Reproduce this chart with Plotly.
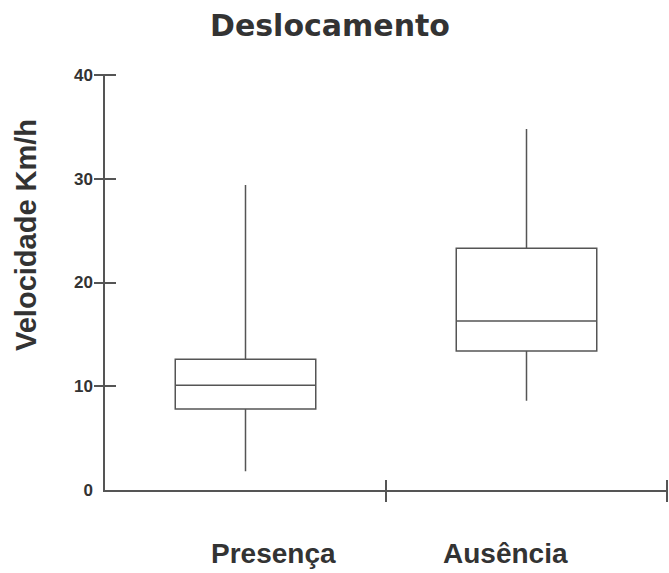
import plotly.graph_objects as go

# Speed (km/h) summary per group
categories = ["Presença", "Ausência"]
lower_whisker = [1.8, 8.6]
q1_values = [7.8, 13.4]
medians = [10.1, 16.3]
q3_values = [12.6, 23.3]
upper_whisker = [29.4, 34.8]
y_ticks = [0, 10, 20, 30, 40]

LINE = "#555555"
TEXT = "#333333"
FONT = "Liberation Sans, Arial, sans-serif"

fig = go.Figure()
for i, name in enumerate(categories):
    fig.add_trace(go.Box(
        x=[i],
        q1=[q1_values[i]], median=[medians[i]], q3=[q3_values[i]],
        lowerfence=[lower_whisker[i]], upperfence=[upper_whisker[i]],
        name=name, width=0.5, whiskerwidth=0,
        fillcolor="white", line=dict(color=LINE, width=1.5),
        boxpoints=False, hoverinfo="skip",
    ))

W, H = 669, 573
L, R, T, B = 105, 2, 75, 83
pw, ph = W - L - R, H - T - B

fig.update_layout(
    width=W, height=H,
    margin=dict(l=L, r=R, t=T, b=B),
    paper_bgcolor="white", plot_bgcolor="white",
    showlegend=False,
    xaxis=dict(range=[-0.5, 1.5], showgrid=False, zeroline=False,
               showline=True, linecolor=LINE, linewidth=1.5,
               showticklabels=False, ticks=""),
    # crossing ticks at the category boundaries
    xaxis2=dict(overlaying="x", anchor="free", position=11 / ph,
                range=[-0.5, 1.5], tickvals=[0.5, 1.5], ticks="outside",
                ticklen=22, tickwidth=1.5, tickcolor=LINE,
                showline=False, showgrid=False, zeroline=False,
                showticklabels=False),
    yaxis=dict(range=[0, 40], tickvals=y_ticks, ticks="",
               showgrid=False, zeroline=False,
               showline=True, linecolor=LINE, linewidth=1.5,
               ticklabelstandoff=7,
               tickfont=dict(family=FONT, size=17, color=TEXT, weight="bold")),
    # crossing ticks on the value axis (none at zero)
    yaxis2=dict(overlaying="y", anchor="free", position=11 / pw,
                range=[0, 40], tickvals=y_ticks[1:], ticks="outside",
                ticklen=22, tickwidth=1.5, tickcolor=LINE,
                showline=False, showgrid=False, zeroline=False,
                showticklabels=False),
)

# empty trace so the overlay axes are drawn
fig.add_trace(go.Scatter(x=[None], y=[None], xaxis="x2", yaxis="y2",
                         hoverinfo="skip", showlegend=False))

def px(xp):
    return (xp - L) / pw

def py(yp):
    return (H - B - yp) / ph

annotations = [
    dict(text="Deslocamento", x=px(330), y=py(25),
         font=dict(family="DejaVu Sans, sans-serif", size=30, color=TEXT, weight="bold")),
    dict(text="Velocidade Km/h", x=px(26), y=py(235), textangle=-90,
         font=dict(family=FONT, size=29, color=TEXT, weight="bold")),
    dict(text=categories[0], x=px(273), y=py(553),
         font=dict(family=FONT, size=28, color=TEXT, weight="bold")),
    dict(text=categories[1], x=px(505), y=py(553),
         font=dict(family=FONT, size=28, color=TEXT, weight="bold")),
]
for a in annotations:
    fig.add_annotation(xref="paper", yref="paper", showarrow=False,
                       xanchor="center", yanchor="middle", **a)

fig.write_html("out.html")
